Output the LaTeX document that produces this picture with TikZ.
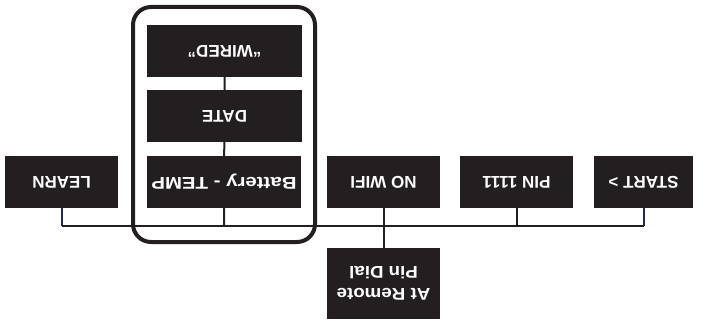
\documentclass[tikz,border=0pt]{standalone}
\usepackage{fontspec}
\setmainfont{Liberation Sans}
\usetikzlibrary{backgrounds}
\definecolor{boxblack}{HTML}{231F20}
\definecolor{navyline}{HTML}{1F2A5A}
\begin{document}
\begin{tikzpicture}[x=1pt,y=-1pt,
  box/.style={fill=boxblack, text=white, minimum height=52pt, inner sep=0pt,
    font=\fontsize{17}{22}\selectfont\bfseries, rotate=180, align=center},
  conn/.style={draw=boxblack, line width=2pt},
  navy/.style={draw=navyline, line width=2pt},
  frame/.style={draw=boxblack, line width=4pt, rounded corners=18pt}]
\useasboundingbox (0,0) rectangle (707,321);
\node[box, minimum width=113pt] (learn) at (61.5,182) {LEARN};
\node[box, minimum width=154pt] (batt) at (224,182) {\scalebox{1.2}[1]{Battery - TEMP}};
\node[box, minimum width=155pt] (date) at (224.5,116) {DATE};
\node[box, minimum width=155pt] (wired) at (224.5,51) {“WIRED”};
\node[box, minimum width=113pt] (nowifi) at (383.5,182) {NO WIFI};
\node[box, minimum width=113pt] (pin) at (516.5,182) {PIN 1111};
\node[box, minimum width=99pt] (start) at (643.5,182) {START >};
\node[box, minimum width=113pt, minimum height=71pt] (remote) at (383.5,283.5) {\scalebox{1.1}[1]{At Remote}\\\scalebox{1.1}[1]{Pin Dial}};
\coordinate (bus) at (0,226);
\begin{scope}[on background layer]
\draw[frame] (133,7) rectangle (315,242);
\draw[navy] (learn.center) -- (learn.center |- bus);
\draw[navy] (start.center) -- (start.center |- bus);
\draw[conn] (learn.center |- bus) -- (start.center |- bus);
\draw[conn] (wired.center) -- (date.center) -- (batt.center) -- (batt.center |- bus);
\draw[conn] (pin.center) -- (pin.center |- bus);
\draw[conn] (nowifi.center) -- (remote.center);
\end{scope}
\end{tikzpicture}
\end{document}
